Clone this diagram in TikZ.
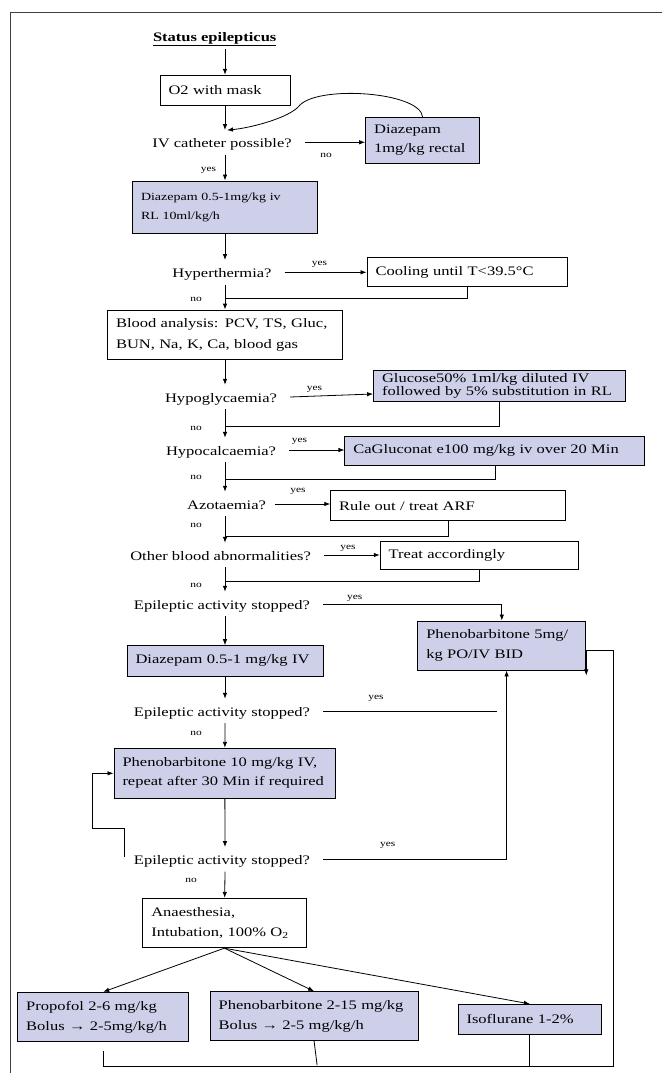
\documentclass[tikz,border=0pt]{standalone}
\usepackage{fontspec}
\usetikzlibrary{arrows.meta}
\newfontfamily\chartfont[FakeStretch=1.27]{Liberation Serif}
\newcommand\chart[2]{\chartfont\fontsize{#1}{#2}\selectfont}
\definecolor{drugfill}{RGB}{206,208,234}
\tikzset{
	flowchart/.is family,
	flowchart/.cd,
	box/.style = {
		draw,
		line width = 0.9pt,
		align = left,
		inner xsep = 8.5pt,
		inner ysep = 0pt,
		font = \chart{13}{20},
	},
	drug/.style = {
		flowchart/box,
		fill = drugfill,
	},
	question/.style = {
		inner xsep = 13pt,
		inner ysep = 6.5pt,
		text height = 11pt,
		text depth = 0pt,
		font = \chart{13}{16},
	},
	answer/.style = {
		inner sep = 0pt,
		font = \chart{9}{10},
	},
	wire/.style = {
		line width = 0.8pt,
	},
	connector/.style = {
		flowchart/wire,
		-{Latex[length = 6pt, width = 4.5pt]},
	},
}

\begin{document}
\begin{tikzpicture}[x = 1pt, y = -1pt]
	\useasboundingbox (0, 0) rectangle (662, 1073);
	\draw[line width = 0.9pt, black!75] (10.6, 1073) -- (10.6, 12.7) -- (662, 12.7);
	\coordinate (col) at (225, 0);
	% main column
	\node[font = \chart{13}{16}\bfseries] (title) at (214.7, 39) {\underline{Status epilepticus}};
	\node[flowchart/box, text width = 113pt, minimum height = 30pt] (o2) at (225, 90.3) {O2 with mask};
	\node[flowchart/question] (iv) at (222, 142.3) {IV catheter possible?};
	\node[flowchart/drug, text width = 97pt, minimum height = 46pt, font = \chart{13}{19}] (rectal) at (422.6, 140.3) {Diazepam\\1mg/kg rectal};
	\node[flowchart/drug, text width = 168pt, minimum height = 52pt, font = \chart{11}{19}] (diaz1) at (225, 207) {Diazepam 0.5-1mg/kg iv\\RL 10ml/kg/h};
	\node[flowchart/question] (hyper) at (222, 272.3) {Hyperthermia?};
	\node[flowchart/box, text width = 183pt, minimum height = 29.4pt] (cool) at (467, 272) {Cooling until T<39.5°C};
	\node[flowchart/box, text width = 218pt, minimum height = 49.3pt, font = \chart{13}{21}] (blood) at (225, 334.7) {Blood analysis: PCV, TS, Gluc,\\BUN, Na, K, Ca, blood gas};
	\node[flowchart/question] (hypo) at (221, 397) {Hypoglycaemia?};
	\node[flowchart/drug, text width = 235pt, minimum height = 30.3pt, font = \chart{13}{13}] (gluc) at (499.5, 385.9) {Glucose50\% 1ml/kg diluted IV\\followed by 5\% substitution in RL};
	\node[flowchart/question] (hypoc) at (221, 450) {Hypocalcaemia?};
	\node[flowchart/drug, text width = 283pt, minimum height = 29pt] (ca) at (494.9, 450.5) {CaGluconat e100 mg/kg iv over 20 Min};
	\node[flowchart/question, inner xsep = 8.5pt] (azot) at (226.5, 504) {Azotaemia?};
	\node[flowchart/box, text width = 218pt, minimum height = 30pt] (rule) at (448.2, 505.7) {Rule out / treat ARF};
	\node[flowchart/question] (other) at (220.6, 555) {Other blood abnormalities?};
	\node[flowchart/box, text width = 181pt, minimum height = 28pt] (treat) at (479.2, 555) {Treat accordingly};
	\node[flowchart/question] (ep1) at (222, 604) {Epileptic activity stopped?};
	\node[flowchart/drug, text width = 151pt, minimum height = 49pt] (pheno5) at (501.8, 645.5) {Phenobarbitone 5mg/\\kg PO/IV BID};
	\node[flowchart/drug, text width = 179pt, minimum height = 30.3pt] (diaz2) at (225, 660.8) {Diazepam 0.5-1 mg/kg IV};
	\node[flowchart/question] (ep2) at (222, 711) {Epileptic activity stopped?};
	\node[flowchart/drug, text width = 204.6pt, minimum height = 50pt, font = \chart{13}{19}] (pheno10) at (224.8, 773.3) {Phenobarbitone 10 mg/kg IV,\\repeat after 30 Min if required};
	\node[flowchart/question] (ep3) at (222, 859.3) {Epileptic activity stopped?};
	\node[flowchart/box, text width = 146.3pt, minimum height = 49.4pt] (anaes) at (224.4, 923) {Anaesthesia,\\Intubation, 100\% O\textsubscript{2}};
	% anaesthesia options
	\node[flowchart/drug, text width = 154pt, minimum height = 49.4pt] (prop) at (103.2, 1017) {Propofol 2-6 mg/kg\\Bolus → 2-5mg/kg/h};
	\node[flowchart/drug, text width = 190.8pt, minimum height = 49pt] (pheno2) at (314.1, 1016.2) {Phenobarbitone 2-15 mg/kg\\Bolus → 2-5 mg/kg/h};
	\node[flowchart/drug, text width = 126.6pt, minimum height = 29.7pt] (iso) at (529.8, 1019.2) {Isoflurane 1-2\%};
	% junctions and free ends
	\coordinate (j1) at (225, 298.3);
	\coordinate (j2) at (225, 426.7);
	\coordinate (j3) at (225, 479);
	\coordinate (j4) at (225, 536.7);
	\coordinate (j5) at (225, 581.7);
	\coordinate (ep2 end) at (497, 711);
	\coordinate (rloop) at (613.4, 1066.7);
	% connectors
	\draw[flowchart/connector] (col |- title.south) -- (o2);
	\draw[flowchart/connector] (o2) -- (col |- iv.north);
	\draw[flowchart/connector] (rectal.north) .. controls (420, 92) and (320, 85) .. (300, 105) .. controls (290, 118) and (250, 128) .. ([xshift = 2pt]col |- iv.north);
	\draw[flowchart/connector] (iv.east) -- (iv.east -| rectal.west);
	\draw[flowchart/connector] (col |- iv.south) -- (diaz1);
	\draw[flowchart/connector] (diaz1) -- (col |- hyper.north);
	\draw[flowchart/connector] (hyper.east) -- (hyper.east -| cool.west);
	\draw[flowchart/connector] (col |- hyper.south) -- (blood);
	\draw[flowchart/wire] (cool) |- (j1);
	\draw[flowchart/connector] (blood) -- (col |- hypo.north);
	\draw[flowchart/connector] (hypo.east) -- ([yshift = 3pt]hypo.east -| gluc.west);
	\draw[flowchart/connector] (col |- hypo.south) -- (col |- hypoc.north);
	\draw[flowchart/wire] (gluc) |- (j2);
	\draw[flowchart/connector] (hypoc.east) -- (hypoc.east -| ca.west);
	\draw[flowchart/connector] (col |- hypoc.south) -- (col |- azot.north);
	\draw[flowchart/wire] (ca) |- (j3);
	\draw[flowchart/connector] (azot.east) -- (azot.east -| rule.west);
	\draw[flowchart/connector] (col |- azot.south) -- (col |- other.north);
	\draw[flowchart/wire] (rule) |- (j4);
	\draw[flowchart/connector] (other.east) -- (other.east -| treat.west);
	\draw[flowchart/connector] (col |- other.south) -- (col |- ep1.north);
	\draw[flowchart/wire] (treat) |- (j5);
	\draw[flowchart/connector] (ep1.east) -| (pheno5.north);
	\draw[flowchart/connector] (col |- ep1.south) -- (diaz2);
	\draw[flowchart/connector] (diaz2) -- (col |- ep2.north);
	\draw[flowchart/wire] (ep2.east) -- (ep2 end);
	\draw[flowchart/connector] (col |- ep2.south) -- (pheno10);
	\draw[flowchart/connector] (pheno10) -- (col |- ep3.north);
	\draw[flowchart/connector] ([xshift = 3.3pt, yshift = 2pt]ep3.west) |- ++(-31.4, -29) |- (pheno10.west);
	\draw[flowchart/connector] (ep3.east) -| ([xshift = 4.8pt]pheno5.south);
	\draw[flowchart/connector] (col |- ep3.south) -- (anaes);
	\foreach \target in {prop, pheno2, iso}
		\draw[flowchart/connector] (anaes.south) -- (\target.north);
	\draw[flowchart/wire] ([yshift = -9pt]prop.south) |- (iso |- rloop);
	\draw[flowchart/wire] (pheno2.south) -- ++(3, 24);
	\draw[flowchart/connector] (iso) -- (iso |- rloop) -- (rloop) |- ([yshift = -5pt]pheno5.east) -- ([yshift = -5pt]pheno5.east |- pheno5.south);
	% answers
	\foreach \txt/\x/\y [count = \i] in {no/326/155, yes/208.5/170, yes/319.4/264.3, no/196/299.3, yes/314.5/389.3, no/196/428.3, yes/299.4/441, no/196/477.3, yes/298/491.7, no/196/525.7, yes/348/548.3, no/196/585, yes/354.8/598.3, yes/376/698.3, no/196/733.3, yes/387.8/845, no/191/880}
		\node[flowchart/answer] (answer-\i) at (\x, \y) {\txt};
\end{tikzpicture}
\end{document}
